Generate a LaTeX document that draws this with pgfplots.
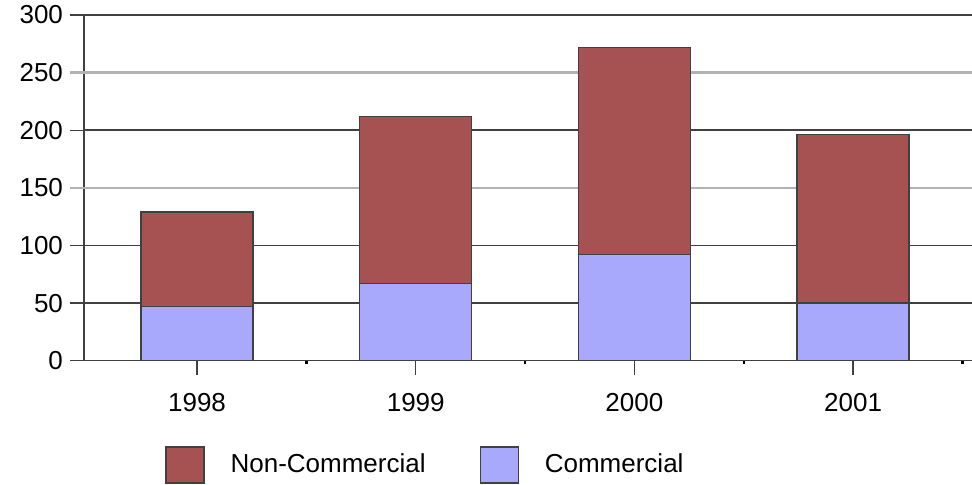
\documentclass[border=0pt]{standalone}
\usepackage{fontspec}
\setmainfont{Liberation Sans}
\usepackage{pgfplots}
\pgfplotsset{compat=1.18}
\definecolor{noncom}{HTML}{A65252}
\definecolor{com}{HTML}{A8A8FC}

\begin{document}
\begin{tikzpicture}
  \useasboundingbox (0,0) rectangle (486pt,242.5pt);
  \begin{axis}[
      at={(42pt,62.15pt)}, anchor=south west,
      scale only axis,
      width=444pt, height=172.85pt,
      xmin=-0.517, xmax=3.544,
      ymin=0, ymax=300,
      ybar stacked,
      bar width=0.512,
      axis lines*=left,
      axis line style={black!75, line width=0.7pt},
      tick align=outside,
      major tick length=7pt,
      major tick style={black!75, line width=0.7pt},
      xtick={0,1,2,3},
      xticklabels={1998,1999,2000,2001},
      minor xtick={0.5,1.5,2.5,3.5},
      minor tick length=1.5pt,
      minor tick style={black, line width=1.2pt},
      ytick={0,50,...,300},
      ymajorgrids,
      major grid style={black!75, line width=0.75pt},
      extra y ticks={150,250},
      extra y tick labels={},
      extra y tick style={
        major grid style={black!30, line width=1.2pt},
        major tick style={black!30, line width=1.2pt},
      },
      ticklabel style={font=\fontsize{13}{15}\selectfont},
      xticklabel style={yshift=-6pt},
      /pgf/number format/assume math mode=true,
      reverse legend,
      legend columns=2,
      legend style={
        at={(0.0912,-0.3017)}, anchor=west,
        draw=none, fill=none, inner sep=0pt,
        font=\fontsize{13}{15}\selectfont,
        /tikz/every odd column/.append style={column sep=11pt},
        /tikz/every even column/.append style={column sep=25pt},
      },
      legend cell align=left,
      legend image code/.code={\draw[#1] (0pt,-9pt) rectangle (19pt,9pt);},
    ]
    % Commercial (bottom)
    \addplot[fill=com, draw=black!75, line width=0.6pt]
      coordinates {(0,47) (1,67) (2,92) (3,50)};
    \addlegendentry{Commercial}
    % Non-Commercial (top)
    \addplot[fill=noncom, draw=black!75, line width=0.6pt]
      coordinates {(0,82) (1,145) (2,180) (3,146)};
    \addlegendentry{Non-Commercial}
  \end{axis}
\end{tikzpicture}
\end{document}
